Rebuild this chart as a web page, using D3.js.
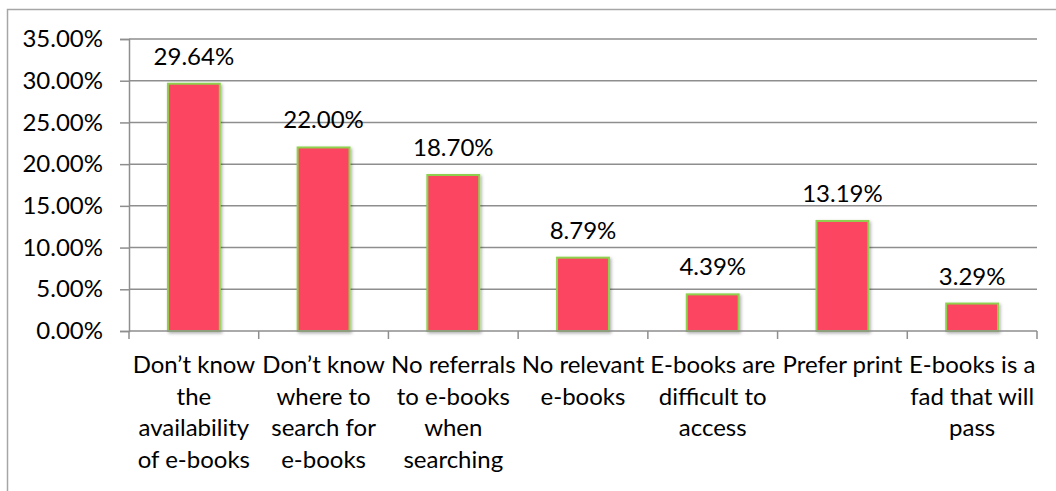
<!DOCTYPE html>
<html>
<head>
<meta charset="utf-8">
<script src="https://cdn.jsdelivr.net/npm/d3@7"></script>
<style>
  html, body { margin: 0; padding: 0; background: #fff; }
  svg { display: block; font-family: Lato, "Open Sans", sans-serif; }
</style>
</head>
<body>
<svg id="chart" width="1056" height="491"></svg>
<script>
// Reasons given for not using e-books (share of respondents)
const categories = [
  ["Don\u2019t know", "the", "availability", "of e-books"],
  ["Don\u2019t know", "where to", "search for", "e-books"],
  ["No referrals", "to e-books", "when", "searching"],
  ["No relevant", "e-books"],
  ["E-books are", "difficult to", "access"],
  ["Prefer print"],
  ["E-books is a", "fad that will", "pass"]
];
const values = [29.64, 22.00, 18.70, 8.79, 4.39, 13.19, 3.29];
const yTicks = [0, 5, 10, 15, 20, 25, 30, 35];

const svg = d3.select("#chart");
const W = 1056, H = 491;
const FONT = 24;
const margin = { left: 129, right: 19, top: 39, bottom: 160 };
const plotW = W - margin.left - margin.right;
const plotH = H - margin.top - margin.bottom;

const defs = svg.append("defs");
const shadow = defs.append("filter").attr("id", "barShadow")
  .attr("x", "-20%").attr("y", "-10%").attr("width", "150%").attr("height", "130%");
shadow.append("feDropShadow").attr("dx", 1.5).attr("dy", 1.5)
  .attr("stdDeviation", 1.6).attr("flood-color", "#000").attr("flood-opacity", 0.3);

// Outer frame
svg.append("rect")
  .attr("x", 7.5).attr("y", 9.5).attr("width", W + 10).attr("height", H + 10)
  .attr("fill", "none").attr("stroke", "#a6a6a6").attr("stroke-width", 1.5);

const g = svg.append("g").attr("transform", `translate(${margin.left},${margin.top})`);

const keys = d3.range(categories.length);
const x = d3.scaleBand().domain(keys).range([0, plotW]).paddingInner(0.6).paddingOuter(0.3);
const y = d3.scaleLinear().domain([0, 35]).range([plotH, 0]);

// Horizontal gridlines
g.append("g").selectAll("line").data(yTicks.filter(d => d > 0)).join("line")
  .attr("x1", 0).attr("x2", plotW)
  .attr("y1", d => y(d)).attr("y2", d => y(d))
  .attr("stroke", "#8e8e8e").attr("stroke-width", 1.5);

// Y axis
const yAxis = g.append("g").call(
  d3.axisLeft(y).tickValues(yTicks).tickSize(9).tickPadding(17)
    .tickFormat(d => d.toFixed(2) + "%")
);
yAxis.select(".domain").attr("stroke", "#8e8e8e").attr("stroke-width", 1.5);
yAxis.selectAll(".tick line").attr("stroke", "#8e8e8e").attr("stroke-width", 1.5);
yAxis.selectAll(".tick text").attr("font-size", FONT).attr("fill", "#000")
  .attr("font-family", "Lato, 'Open Sans', sans-serif");

// Bars
g.append("g").selectAll("rect").data(values).join("rect")
  .attr("x", (d, i) => x(i))
  .attr("y", d => y(d))
  .attr("width", x.bandwidth())
  .attr("height", d => y(0) - y(d))
  .attr("fill", "#fc4560")
  .attr("stroke", "#8fd14f")
  .attr("stroke-width", 2)
  .attr("filter", "url(#barShadow)");

// Value labels
g.append("g").selectAll("text").data(values).join("text")
  .attr("x", (d, i) => x(i) + x.bandwidth() / 2)
  .attr("y", d => y(d) - 19)
  .attr("text-anchor", "middle")
  .attr("font-size", FONT)
  .attr("fill", "#000")
  .text(d => d.toFixed(2) + "%");

// X axis line with ticks at category boundaries
const xAxisG = g.append("g").attr("transform", `translate(0,${plotH})`);
const step = x.step();
xAxisG.append("line").attr("x1", 0).attr("x2", plotW)
  .attr("stroke", "#8e8e8e").attr("stroke-width", 1.5);
xAxisG.selectAll("line.tk").data(d3.range(categories.length + 1)).join("line")
  .attr("class", "tk")
  .attr("x1", i => i * step).attr("x2", i => i * step)
  .attr("y1", 0).attr("y2", 8)
  .attr("stroke", "#8e8e8e").attr("stroke-width", 1.5);

// Category labels, one tspan per line
const cat = xAxisG.selectAll("text.cat").data(categories).join("text")
  .attr("class", "cat")
  .attr("text-anchor", "middle")
  .attr("font-size", FONT)
  .attr("fill", "#000")
  .attr("transform", (d, i) => `translate(${x(i) + x.bandwidth() / 2},42)`);
cat.selectAll("tspan").data(d => d).join("tspan")
  .attr("x", 0)
  .attr("y", (d, i) => i * 31.5)
  .text(d => d);
</script>
</body>
</html>
